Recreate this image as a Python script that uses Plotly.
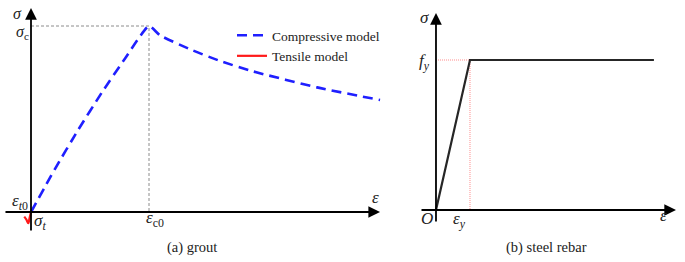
import plotly.graph_objects as go

# ---- data (normalized: strain / eps_c0, stress / sigma_c) ----
comp_eps = [0.0, 0.2, 0.4, 0.6, 0.8, 1.0, 1.093, 1.347, 1.602, 1.881, 2.424, 2.958]
comp_sig = [0.0, 0.228, 0.442, 0.642, 0.828, 1.0, 0.950, 0.875, 0.812, 0.756, 0.670, 0.602]
tens_eps = [0.0, -0.012, -0.023, -0.040, -0.057]
tens_sig = [0.0, -0.032, -0.060, -0.040, -0.025]
peak_eps = 1.0
peak_sig = 1.0

# steel rebar (normalized: strain / eps_y, stress / f_y)
steel_eps = [0.0, 1.0, 6.41]
steel_sig = [0.0, 1.0, 1.0]
yield_eps = 1.0
yield_sig = 1.0

W, H = 685, 262
def px(x):
    return x / W
def py(y):
    return 1 - y / H

SERIF = "Liberation Serif"
fig = go.Figure()

# grey reference lines (grout)
fig.add_trace(go.Scatter(x=[0, peak_eps, peak_eps], y=[peak_sig, peak_sig, 0], mode="lines",
                         line=dict(color="#8c8c8c", width=1, dash="3px,2px"), showlegend=False,
                         hoverinfo="skip", xaxis="x", yaxis="y"))
fig.add_trace(go.Scatter(x=comp_eps, y=comp_sig, mode="lines", name="Compressive model",
                         line=dict(color="#1f1fff", width=2.6, dash="10px,6px", shape="spline", smoothing=0.5),
                         xaxis="x", yaxis="y"))
fig.add_trace(go.Scatter(x=tens_eps, y=tens_sig, mode="lines", name="Tensile model",
                         line=dict(color="#ff1a1a", width=2.2, shape="spline"),
                         xaxis="x", yaxis="y"))

# steel
fig.add_trace(go.Scatter(x=[0, yield_eps, yield_eps], y=[yield_sig, yield_sig, 0], mode="lines",
                         line=dict(color="#ff8c8c", width=1, dash="1px,1px"), showlegend=False,
                         hoverinfo="skip", xaxis="x2", yaxis="y2"))
fig.add_trace(go.Scatter(x=steel_eps, y=steel_sig, mode="lines", showlegend=False,
                         line=dict(color="#262626", width=2.2), xaxis="x2", yaxis="y2"))

ax_common = dict(visible=False, showgrid=False, zeroline=False, fixedrange=True)
fig.update_layout(
    width=W, height=H, margin=dict(l=0, r=0, t=0, b=0),
    paper_bgcolor="white", plot_bgcolor="white",
    xaxis=dict(domain=[0, 0.6], range=[-0.2627, 3.2203], **ax_common),
    yaxis=dict(domain=[0, 1], range=[-0.2688, 1.1398], **ax_common),
    xaxis2=dict(domain=[0.6, 1], range=[-0.735, 7.324], anchor="y2", **ax_common),
    yaxis2=dict(domain=[0, 1], range=[-0.3467, 1.4], anchor="x2", **ax_common),
    legend=dict(x=px(232), y=py(20), xanchor="left", yanchor="top", bgcolor="rgba(0,0,0,0)",
                font=dict(family=SERIF, size=13.5, color="#222"), tracegroupgap=0, itemwidth=30),
    showlegend=True,
)

def arrow(x0, y0, x1, y1, xr, yr):
    fig.add_annotation(x=x1, y=y1, ax=x0, ay=y0, xref=xr, yref=yr, axref=xr, ayref=yr,
                       showarrow=True, arrowhead=2, arrowsize=1.3, arrowwidth=1.8,
                       arrowcolor="black", text="", standoff=0, startstandoff=0)

# grout axes
arrow(-0.229, 0, 2.958, 0, "x", "y")
arrow(0, -0.1075, 0, 1.097, "x", "y")
# steel axes
arrow(-0.47, 0, 7.06, 0, "x2", "y2")
arrow(0, -0.0867, 0, 1.313, "x2", "y2")

def label(x, y, text, size=17, xanchor="center"):
    fig.add_annotation(x=px(x), y=py(y), xref="paper", yref="paper", text=text, showarrow=False,
                       xanchor=xanchor, yanchor="middle", font=dict(family=SERIF, size=size, color="#222"))

label(17, 13, "<i>σ</i>", size=16)
label(22, 33, "<i>σ</i><sub>c</sub>", size=16)
label(20, 202, "<i>ε</i><sub><i>t</i>0</sub>")
label(40, 222, "<i>σ</i><sub><i>t</i></sub>")
label(155, 219, "<i>ε</i><sub>c0</sub>")
label(375, 197, "<i>ε</i>")
label(192, 247, "(a) grout", size=14.5)

label(424, 17, "<i>σ</i>")
label(424, 62, "<i>f</i><sub><i>y</i></sub>")
label(427, 218, "<i>O</i>")
label(459, 220, "<i>ε</i><sub><i>y</i></sub>")
label(663, 215, "<i>ε</i>")
label(546, 247, "(b) steel rebar", size=14.5)

fig.write_html("out.html", post_script="document.body.style.margin='0';",
               config={"displayModeBar": False})
